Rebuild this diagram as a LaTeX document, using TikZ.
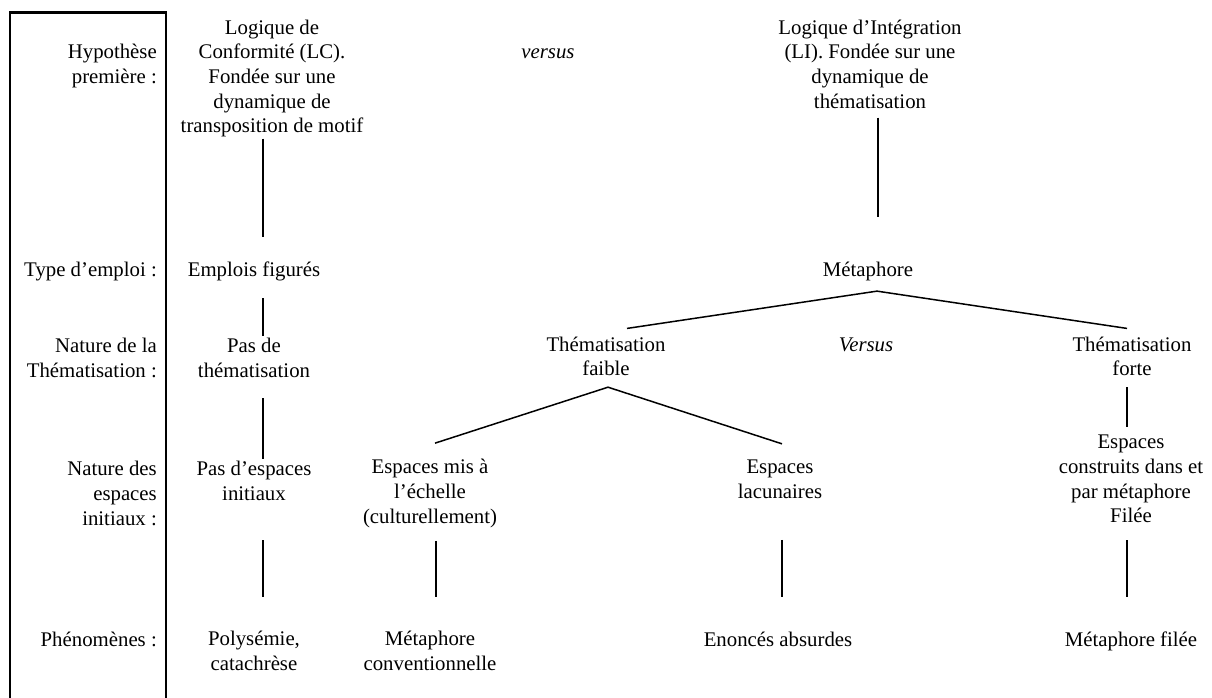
\documentclass[tikz,border=0pt]{standalone}
\usepackage{fontspec}
\setmainfont{Liberation Serif}
\usetikzlibrary{calc}

\tikzset{
  txt/.style={font=\fontsize{20.8}{24.7}\selectfont, align=center, inner sep=0pt},
  lbl/.style={txt, align=right},
  link/.style={draw=black, line width=1.5pt},
  frame/.style={draw=black, line width=2.3pt}
}

\begin{document}
\begin{tikzpicture}[x=1pt, y=-1pt]
  % page area and background
  \fill[white] (0,0) rectangle (1212,697);
  \useasboundingbox (0,0) rectangle (1212,697);

  % frame around the row headings (open at the bottom)
  \draw[frame] (10,705) -- (10,12.5) -- (166,12.5) -- (166,705);

  % row headings
  \node[lbl, anchor=east] (hyp) at (157,66.2) {Hypothèse\\première :};
  \node[lbl, anchor=base east] (typ) at (157,276) {Type d’emploi :};
  \node[lbl, anchor=east] (nat) at (157,357.7) {Nature de la\\Thématisation :};
  \node[lbl, anchor=east] (esp) at (157,493.5) {Nature des\\espaces\\initiaux :};
  \node[lbl, anchor=base east] (phe) at (157,646) {Phénomènes :};

  % column x positions for the vertical connectors
  \coordinate (c1) at (263,0);
  \coordinate (c2) at (436,0);
  \coordinate (c3) at (782,0);
  \coordinate (c4) at (878,0);
  \coordinate (c5) at (1127,0);

  % conformity branch
  \node[txt] (lc) at (272,78.5) {Logique de\\Conformité (LC).\\Fondée sur une\\dynamique de\\transposition de motif};
  \node[txt, anchor=base] (fig) at (254,276) {Emplois figurés};
  \node[txt] (pas) at (254,358.2) {Pas de\\thématisation};
  \node[txt] (pasesp) at (254,481.2) {Pas d’espaces\\initiaux};
  \node[txt] (poly) at (254,651.2) {Polysémie,\\catachrèse};

  \node[txt, anchor=base] (vs) at (548,58.7) {\itshape versus};

  % integration branch
  \node[txt] (li) at (870,64) {Logique d’Intégration\\(LI). Fondée sur une\\dynamique de\\thématisation};
  \node[txt, anchor=base] (met) at (868,276) {Métaphore};
  \node[txt] (tf) at (606,356.3) {Thématisation\\faible};
  \node[txt, anchor=base] (Vs) at (866,351) {\itshape Versus};
  \node[txt] (tfo) at (1132,356.3) {Thématisation\\forte};
  \node[txt] (em) at (430,493.5) {Espaces mis à\\l’échelle\\(culturellement)};
  \node[txt] (el) at (780,479.3) {Espaces\\lacunaires};
  \node[txt] (ec) at (1131,479) {Espaces\\construits dans et\\par métaphore\\Filée};
  \node[txt] (mc) at (430,651.2) {Métaphore\\conventionnelle};
  \node[txt, anchor=base] (ea) at (778,646) {Enoncés absurdes};
  \node[txt, anchor=base] (mf) at (1131,646) {Métaphore filée};

  % connectors of the conformity column
  \draw[link] ($(lc.south -| c1)+(0,1)$) -- ($(fig.north -| c1)+(0,-24)$);
  \draw[link] ($(fig.south -| c1)+(0,17.5)$) -- ($(pas.north -| c1)+(0,-2)$);
  \draw[link] ($(pas.south -| c1)+(0,20)$) -- ($(pasesp.north -| c1)+(0,-2)$);
  \draw[link] ($(pasesp.south -| c1)+(0,39)$) -- ($(poly.north -| c1)+(0,-34)$);

  % connectors of the integration column
  \draw[link] ($(li.south -| c4)+(0,9)$) -- ($(met.north -| c4)+(0,-44)$);
  \coordinate (apex1) at ($(met.south)+(9,10.5)$);
  \draw[link] ($(tf.north)+(21,-8)$) -- (apex1) -- ($(tfo.north)+(-5,-8)$);
  \coordinate (apex2) at ($(tf.south)+(2,11)$);
  \draw[link] ($(em.north)+(5,-16)$) -- (apex2) -- ($(el.north)+(2,-16)$);
  \draw[link] ($(tfo.south -| c5)+(0,11)$) -- ($(ec.north -| c5)+(0,-8)$);
  \draw[link] ($(ec.south -| c5)+(0,17)$) -- ($(mf.north -| c5)+(0,-34)$);
  \draw[link] ($(em.south -| c2)+(0,13)$) -- ($(mc.north -| c2)+(0,-34)$);
  \draw[link] ($(el.south -| c3)+(0,41)$) -- ($(ea.north -| c3)+(0,-34)$);
\end{tikzpicture}
\end{document}
